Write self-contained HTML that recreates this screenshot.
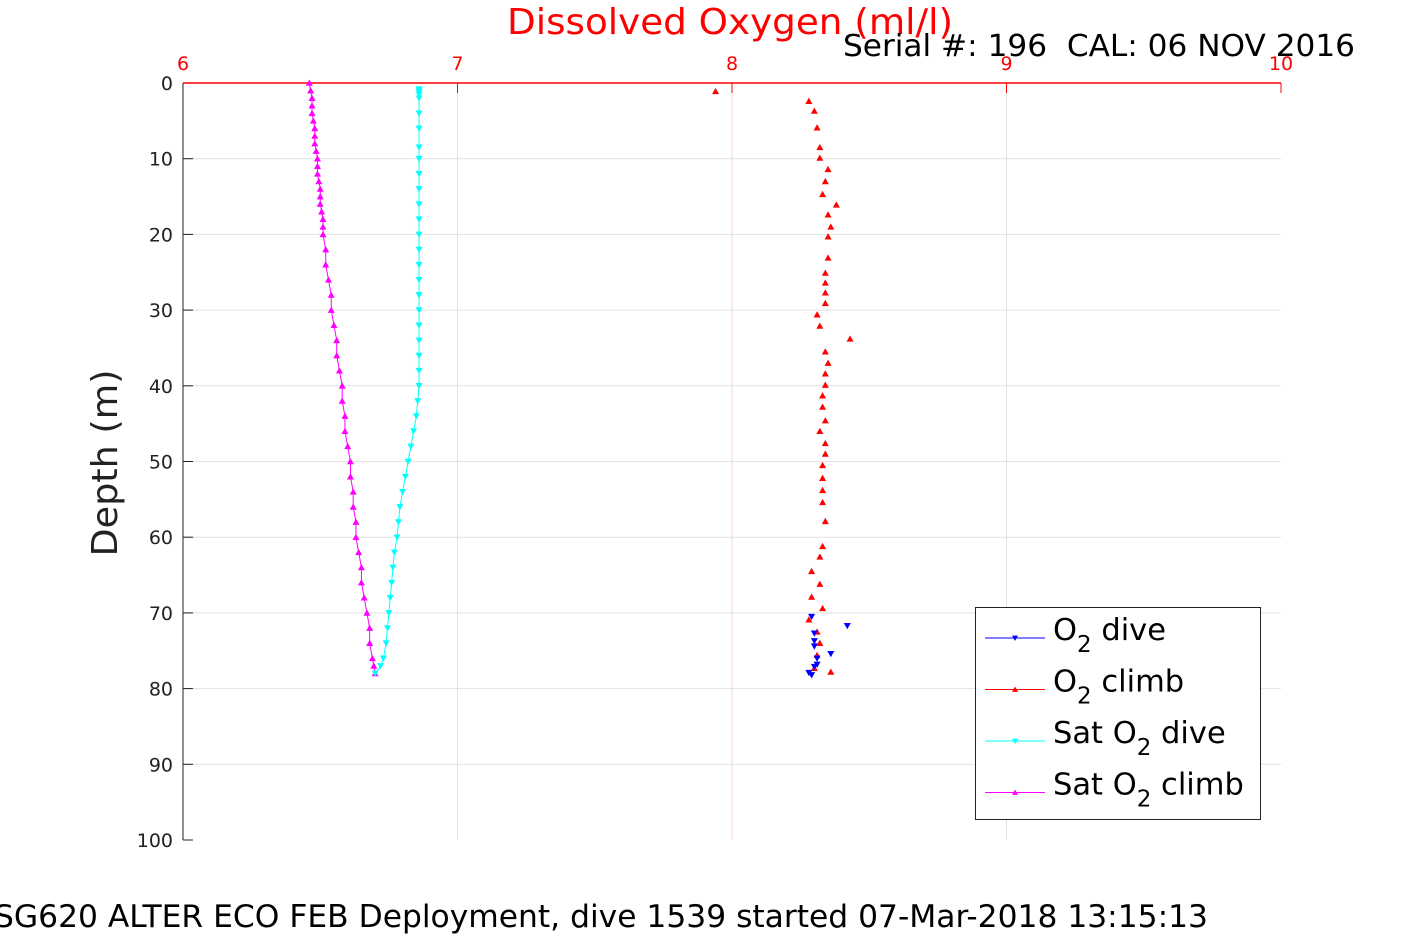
<!DOCTYPE html>
<html><head><meta charset="utf-8"><style>
body{margin:0;background:#fff;}
svg{display:block;font-family:"DejaVu Sans","Liberation Sans",sans-serif;}
</style></head><body>
<svg id="chart" width="1417" height="945" viewBox="0 0 1417 945">
<g id="grid"></g>
<g id="axes"></g>
<g id="series"></g>
<text x="507" y="34" font-size="36" fill="#ff0000" textLength="446" lengthAdjust="spacingAndGlyphs">Dissolved Oxygen (ml/l)</text>
<text x="843" y="56" font-size="30" fill="#000" xml:space="preserve" style="white-space:pre" textLength="512" lengthAdjust="spacingAndGlyphs">Serial #: 196  CAL: 06 NOV 2016</text>
<text transform="translate(117,463) rotate(-90)" font-size="36" fill="#222" text-anchor="middle" textLength="187" lengthAdjust="spacingAndGlyphs">Depth (m)</text>
<text x="-6" y="927" font-size="31" fill="#000" textLength="1214" lengthAdjust="spacingAndGlyphs">SG620 ALTER ECO FEB Deployment, dive 1539 started 07-Mar-2018 13:15:13</text>
<g id="legend"></g>
</svg>
<script>
const xTicks=[6,7,8,9,10];
const yTicks=[0,10,20,30,40,50,60,70,80,90,100];
const o2DiveDepth=[70.5,71.7,72.7,73.7,74.4,75.4,76.0,76.8,77.1,77.9,78.2];
const o2DiveVal=[8.29,8.42,8.30,8.30,8.30,8.36,8.31,8.31,8.30,8.28,8.29];
const o2ClimbDepth=[1.1,2.4,3.7,5.9,8.5,9.9,11.4,13.0,14.7,16.1,17.4,19.0,20.3,23.1,25.1,26.4,27.7,29.1,30.6,32.1,33.8,35.5,37.0,38.4,39.9,41.3,42.8,44.6,46.0,47.6,49.0,50.5,52.2,53.8,55.4,57.9,61.2,62.6,64.5,66.2,67.9,69.4,70.9,72.5,74.0,75.6,77.3,77.8];
const o2ClimbVal=[7.94,8.28,8.30,8.31,8.32,8.32,8.35,8.34,8.33,8.38,8.35,8.36,8.35,8.35,8.34,8.34,8.34,8.34,8.31,8.32,8.43,8.34,8.35,8.34,8.34,8.33,8.33,8.34,8.32,8.34,8.34,8.33,8.33,8.33,8.33,8.34,8.33,8.32,8.29,8.32,8.29,8.33,8.28,8.31,8.32,8.31,8.30,8.36];
const satDiveDepth=[0.8,1,1.2,1.5,2,4,6,8.5,10,12,14,16,18,20,22,24,26,28,30,32,34,36,38,40,42,44,46,48,50,52,54,56,58,60,62,64,66,68,70,72,74,76,77,78];
const satDiveVal=[6.86,6.86,6.86,6.86,6.86,6.86,6.86,6.86,6.86,6.86,6.86,6.86,6.86,6.86,6.86,6.86,6.86,6.86,6.86,6.86,6.86,6.86,6.86,6.86,6.855,6.85,6.84,6.83,6.82,6.81,6.80,6.79,6.785,6.78,6.77,6.765,6.76,6.755,6.75,6.745,6.74,6.73,6.72,6.70];
const satClimbDepth=[0,1,2,3,4,5,6,7,8,9,10,11,12,13,14,15,16,17,18,19,20,22,24,26,28,30,32,34,36,38,40,42,44,46,48,50,52,54,56,58,60,62,64,66,68,70,72,74,76,77,78];
const satClimbVal=[6.46,6.465,6.47,6.47,6.47,6.475,6.48,6.48,6.48,6.485,6.49,6.49,6.49,6.495,6.50,6.50,6.50,6.505,6.51,6.51,6.51,6.52,6.52,6.53,6.54,6.54,6.55,6.56,6.56,6.57,6.58,6.58,6.59,6.59,6.60,6.61,6.61,6.62,6.62,6.63,6.63,6.64,6.65,6.65,6.66,6.67,6.68,6.68,6.69,6.695,6.70];

const X0=183,X1=1281,Y0=83,Y1=840;
const xs=v=>X0+(v-6)/4*(X1-X0);
const ys=d=>Y0+d/100*(Y1-Y0);
const NS="http://www.w3.org/2000/svg";
function mk(tag,attrs,parent){const e=document.createElementNS(NS,tag);for(const k in attrs)e.setAttribute(k,attrs[k]);parent.appendChild(e);return e;}
const grid=document.getElementById('grid'),axes=document.getElementById('axes'),ser=document.getElementById('series'),leg=document.getElementById('legend');

mk('rect',{x:X0,y:Y0,width:X1-X0,height:Y1-Y0,fill:'#fff'},grid);
xTicks.forEach(t=>{
  const x=xs(t);
  if(t>6&&t<10){const l=mk('line',{x1:x,y1:Y0,x2:x,y2:Y1,stroke:t==8?'#f5d5d5':'#e2e2e2','stroke-width':1},grid);
  
  }
  const tk=mk('line',{x1:x,y1:Y0,x2:x,y2:Y0+10,stroke:'#ff0000'},axes);
  
  
  const tx=mk('text',{x:x,y:Y0-13,'font-size':19,fill:'#ff0000','text-anchor':'middle'},axes);
  tx.textContent=t;
  
  
});
yTicks.forEach(t=>{
  const y=ys(t);
  if(t>0&&t<100){const l=mk('line',{x1:X0,y1:y,x2:X1,y2:y,stroke:'#e2e2e2'},grid);
  
  }
  const tk=mk('line',{x1:X0,y1:y,x2:X0+10,y2:y,stroke:'#222'},axes);
  
  
  const tx=mk('text',{x:X0-10,y:y+7,'font-size':19,fill:'#222','text-anchor':'end'},axes);
  tx.textContent=t;
  
  
});
const la=mk('line',{x1:X0,y1:Y0,x2:X0,y2:Y1,stroke:'#222'},axes);


const ta=mk('line',{x1:X0,y1:Y0,x2:X1,y2:Y0,stroke:'#ff0000','stroke-width':1.5},axes);



function tri(x,y,up,s){return up?`${x},${y-s} ${x-s},${y+s*0.8} ${x+s},${y+s*0.8}`:`${x},${y+s} ${x-s},${y-s*0.8} ${x+s},${y-s*0.8}`;}
function series(vals,deps,color,up,line,name){
  const g=mk('g',{},ser);
  
  
  if(line){const pts=vals.map((v,i)=>xs(v)+','+ys(deps[i])).join(' ');
    mk('polyline',{points:pts,fill:'none',stroke:color,'stroke-width':1},g);}
  vals.forEach((v,i)=>{
    const p=mk('polygon',{points:tri(xs(v),ys(deps[i]),up,3.5),fill:color},g);
    
    
  });
}
series(satClimbVal,satClimbDepth,'#ff00ff',true,true,'sat-o2-climb-series');
series(satDiveVal,satDiveDepth,'#00ffff',false,true,'sat-o2-dive-series');
series(o2ClimbVal,o2ClimbDepth,'#ff0000',true,false,'o2-climb-series');
series(o2DiveVal,o2DiveDepth,'#0000ff',false,false,'o2-dive-series');

mk('rect',{x:975.5,y:607.5,width:285,height:212,fill:'#fff',stroke:'#222'},leg);
const entries=[['O','2',' dive','#0000ff',false],['O','2',' climb','#ff0000',true],['Sat O','2',' dive','#00ffff',false],['Sat O','2',' climb','#ff00ff',true]];
entries.forEach((e,i)=>{
  const y=638+i*51.5;
  const g=mk('g',{},leg);
  
  
  mk('line',{x1:985,y1:y,x2:1045,y2:y,stroke:e[3]},g);
  mk('polygon',{points:tri(1015,y,e[4],3),fill:e[3]},g);
  const t=mk('text',{x:1053,y:y+2,'font-size':30.5,fill:'#000'},g);
  const a=mk('tspan',{},t);a.textContent=e[0];
  const b=mk('tspan',{dy:12,'font-size':23},t);b.textContent=e[1];
  const c=mk('tspan',{dy:-12},t);c.textContent=e[2];
});
</script>
</body></html>
